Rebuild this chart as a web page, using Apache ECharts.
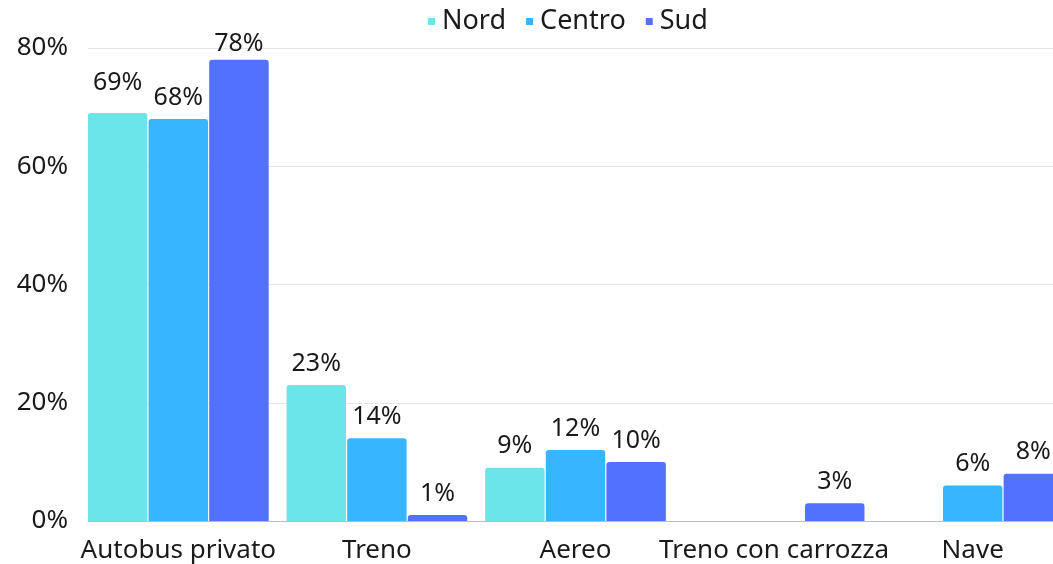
<!DOCTYPE html>
<html>
<head>
<meta charset="utf-8">
<script src="https://cdn.jsdelivr.net/npm/echarts@6/dist/echarts.min.js"></script>
<style>
  html, body { margin: 0; padding: 0; background: #fff; overflow: hidden; }
  body { width: 1053px; height: 564px; }
  /* plot runs past the right edge, as in the original */
  #chart { width: 1072px; height: 564px; }
</style>
</head>
<body>
<div id="chart"></div>
<script>
const categories = ["Autobus privato", "Treno", "Aereo", "Treno con carrozza", "Nave"];
const nord = [69, 23, 9, null, null];
const centro = [68, 14, 12, null, 6];
const sud = [78, 1, 10, 3, 8];
const yTicks = [0, 20, 40, 60, 80];

const FONT = "Noto Sans";
const TEXT = "#1a1a1a";

const chart = echarts.init(document.getElementById("chart"));

// labels in the first group were nudged in the original to avoid collisions
const labelNudge = { Nord: { 0: 18 }, Sud: { 0: 3 } };

const barSeries = (name, data, color) => ({
  name,
  type: "bar",
  xAxisIndex: 1,
  yAxisIndex: 1,
  data: data.map((v, i) => {
    const d = labelNudge[name] && labelNudge[name][i];
    return d == null ? v : { value: v, label: { distance: d } };
  }),
  barGap: "2%",
  barCategoryGap: "9%",
  itemStyle: { color, borderRadius: [3, 3, 0, 0] },
  label: {
    show: true,
    position: "top",
    distance: 9,
    formatter: "{c}%",
    fontFamily: FONT,
    fontSize: 25,
    color: TEXT,
  },
});

chart.setOption({
  animation: false,
  textStyle: { fontFamily: FONT },
  legend: {
    top: 3,
    left: 423,
    itemWidth: 7,
    itemHeight: 7,
    itemGap: 20,
    icon: "rect",
    textStyle: { fontFamily: FONT, fontSize: 27, color: TEXT, padding: [0, 0, 0, 2] },
    data: ["Nord", "Centro", "Sud"],
  },
  grid: [
    // grid lines + y labels
    { left: 88, right: 0, top: 48, bottom: 43 },
    // bars + category labels
    { left: 79, right: 0, top: 48, bottom: 43 },
  ],
  xAxis: [
    {
      gridIndex: 0,
      type: "value",
      min: 0,
      max: 1,
      axisLine: { show: true, onZero: false, lineStyle: { color: "#bdbdbd" } },
      axisTick: { show: false },
      axisLabel: { show: false },
      splitLine: { show: false },
    },
    {
      gridIndex: 1,
      type: "category",
      data: categories,
      axisLine: { show: false },
      axisTick: { show: false },
      axisLabel: {
        interval: 0,
        margin: 17,
        fontFamily: FONT,
        fontSize: 26,
        color: TEXT,
      },
    },
  ],
  yAxis: [
    {
      gridIndex: 0,
      type: "value",
      min: yTicks[0],
      max: yTicks[yTicks.length - 1],
      interval: 20,
      axisLine: { show: false },
      axisTick: { show: false },
      axisLabel: {
        margin: 20,
        formatter: "{value}%",
        fontFamily: FONT,
        fontSize: 26,
        color: TEXT,
      },
      splitLine: { lineStyle: { color: "#e6e6e6" } },
    },
    {
      gridIndex: 1,
      type: "value",
      min: yTicks[0],
      max: yTicks[yTicks.length - 1],
      show: false,
    },
  ],
  series: [
    barSeries("Nord", nord, "#6ce5e8"),
    barSeries("Centro", centro, "#37b6ff"),
    barSeries("Sud", sud, "#5271ff"),
  ],
});
</script>
</body>
</html>
